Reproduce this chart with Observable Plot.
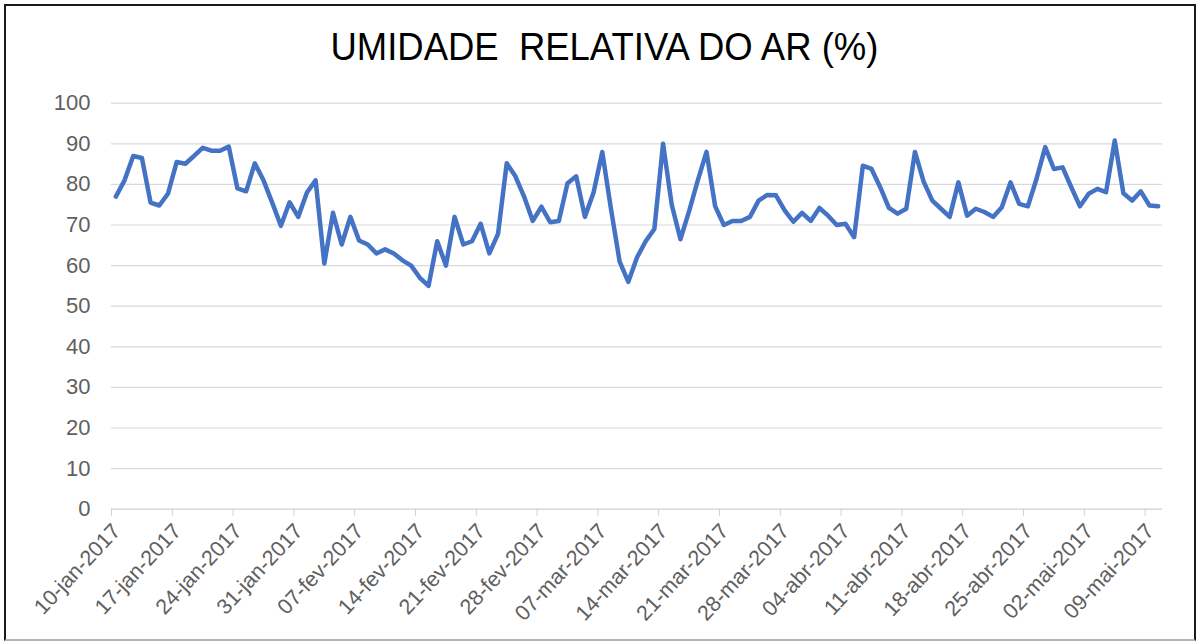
<!DOCTYPE html>
<html>
<head>
<meta charset="utf-8">
<script src="https://cdn.jsdelivr.net/npm/d3@7"></script>
<script src="https://cdn.jsdelivr.net/npm/@observablehq/plot@0.6"></script>
<style>
  html, body { margin: 0; padding: 0; background: #fff; }
  #wrap { position: relative; width: 1201px; height: 642px; overflow: hidden; font-family: Arial, "Liberation Sans", sans-serif; }
  #title { height: 80px; box-sizing: border-box; padding-top: 28px; text-align: center; }
  #title span { display: inline-block; font-size: 38px; line-height: 38px; color: #000; white-space: pre; transform: scaleX(0.96); margin-left: 8px; }
  #frame { position: absolute; left: 4px; top: 4px; width: 1192px; height: 637px; box-sizing: border-box; border: 2px solid #1a1a1a; border-bottom-color: #b5b5b5; pointer-events: none; }
</style>
</head>
<body>
<div id="wrap">
  <div id="title"><span>UMIDADE  RELATIVA DO AR (%)</span></div>
  <div id="chart"></div>
  <div id="frame"></div>
</div>
<script>
// Daily relative humidity (%) starting 10-jan-2017
const startDate = "2017-01-10";
const endDate = "2017-05-11";
const humidity = [
  77, 81, 87, 86.5, 75.5, 74.8, 77.7, 85.5, 85.1, 87,
  89, 88.3, 88.3, 89.3, 79, 78.3, 85.2, 81, 75.5, 69.8,
  75.6, 72, 78, 81, 60.5, 73, 65.2, 72, 66.2, 65.2,
  63, 64, 63, 61.3, 60, 57, 55, 66, 60, 72,
  65.2, 66, 70.3, 63, 67.8, 85.2, 82, 77, 71, 74.5,
  70.7, 71, 80.3, 82, 72, 78, 88, 74, 61, 56,
  62, 66, 69, 90, 75, 66.5, 73.4, 81, 88, 74.6,
  70, 71, 71, 72, 76, 77.4, 77.3, 73.6, 70.8, 73,
  71, 74.2, 72.3, 70, 70.3, 67, 84.6, 83.8, 79.3, 74.2,
  72.8, 74, 88, 80.7, 76, 74, 72, 80.5, 72.3, 74,
  73.2, 72, 74.4, 80.5, 75.2, 74.6, 81.4, 89.2, 83.8, 84.2,
  79.3, 74.6, 77.7, 78.9, 78.1, 90.8, 77.8, 76, 78.3, 74.8,
  74.6
];
const tickDateStrings = [
  "2017-01-10", "2017-01-17", "2017-01-24", "2017-01-31", "2017-02-07",
  "2017-02-14", "2017-02-21", "2017-02-28", "2017-03-07", "2017-03-14",
  "2017-03-21", "2017-03-28", "2017-04-04", "2017-04-11", "2017-04-18",
  "2017-04-25", "2017-05-02", "2017-05-09"
];
const tickLabels = [
  "10-jan-2017", "17-jan-2017", "24-jan-2017", "31-jan-2017", "07-fev-2017",
  "14-fev-2017", "21-fev-2017", "28-fev-2017", "07-mar-2017", "14-mar-2017",
  "21-mar-2017", "28-mar-2017", "04-abr-2017", "11-abr-2017", "18-abr-2017",
  "25-abr-2017", "02-mai-2017", "09-mai-2017"
];
const yTicks = [0, 10, 20, 30, 40, 50, 60, 70, 80, 90, 100];

const start = new Date(startDate + "T00:00:00Z");
const data = humidity.map((v, i) => ({
  date: new Date(d3.utcDay.offset(start, i).getTime() + 12 * 3600 * 1000),
  value: v
}));
const tickDates = tickDateStrings.map(s => new Date(s + "T00:00:00Z"));
const labelByTime = new Map(tickDates.map((d, i) => [d.getTime(), tickLabels[i]]));

const chart = Plot.plot({
  width: 1201,
  height: 562,
  marginTop: 22.7,
  marginBottom: 133.3,
  marginLeft: 111,
  marginRight: 39,
  style: { fontFamily: "Arial, 'Liberation Sans', sans-serif", color: "#595959", background: "transparent", overflow: "visible" },
  x: { type: "utc", domain: [start, new Date(endDate + "T00:00:00Z")] },
  y: { domain: [0, 100] },
  marks: [
    Plot.gridY(yTicks.filter(t => t > 0), { stroke: "#d9d9d9", strokeOpacity: 1, strokeWidth: 1.2 }),
    Plot.ruleY([0], { stroke: "#d0d0d0", strokeWidth: 1.2 }),
    Plot.axisY({ ticks: yTicks, tickSize: 0, tickPadding: 21, fontSize: 22, fill: "#606060", label: null }),
    // tick marks
    Plot.axisX({
      ticks: tickDates,
      tickFormat: () => "",
      tickSize: 7,
      stroke: "#d0d0d0",
      label: null
    }),
    // rotated tick labels
    Plot.axisX({
      ticks: tickDates,
      tickFormat: d => labelByTime.get(d.getTime()),
      tickRotate: -47,
      tickSize: 0,
      tickPadding: 18,
      fontSize: 21.5,
      fill: "#606060",
      dx: 5,
      label: null
    }),
    Plot.line(data, { x: "date", y: "value", stroke: "#4472C4", strokeWidth: 4.5, strokeLinejoin: "round", strokeLinecap: "round" })
  ]
});
document.getElementById("chart").appendChild(chart);
</script>
</body>
</html>
